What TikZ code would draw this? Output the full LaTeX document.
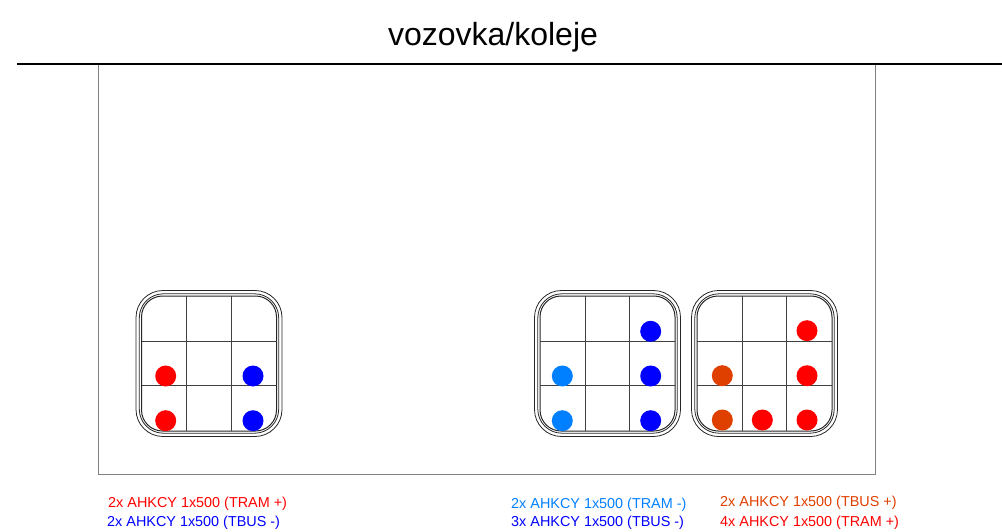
\documentclass[tikz,border=0pt]{standalone}
\usepackage{fontspec}
\setmainfont{Liberation Sans}
\usetikzlibrary{positioning}
\definecolor{tramplus}{RGB}{255,0,0}
\definecolor{tbusminus}{RGB}{0,0,255}
\definecolor{trampminus}{RGB}{0,128,255}
\definecolor{tbusplus}{RGB}{223,64,0}
\tikzset{
  cable/.style={circle, fill=#1, draw=none, minimum size=21pt, inner sep=0pt},
  note/.style={anchor=west, inner sep=0pt, font=\fontsize{14.4}{16}\selectfont},
  wall/.style={draw=black!85, line width=0.8pt},
  grid line/.style={draw=black!75, line width=1pt}
}
\begin{document}
\begin{tikzpicture}[x=1pt, y=-1pt]
\useasboundingbox (0,0) rectangle (1002,532);

% Road and cross section frame
\draw[black!50, line width=1pt] (98.5,64) -- (98.5,474) -- (875,474) -- (875,64);
\draw[black, line width=2.4pt] (17,64) -- (1002,64);
\node[font=\fontsize{32}{36}\selectfont] (title) at (493,37) {vozovka/koleje};

% Duct blocks
\foreach \x in {136,534.5,691.5} {
    \draw[wall, rounded corners=27pt] (\x,290.5) rectangle ++(146,146);
    \draw[wall, rounded corners=24pt] (\x+3.3,293.8) rectangle ++(139.4,139.4);
    \draw[wall, line width=1pt, rounded corners=21pt] (\x+5.5,296) rectangle ++(135,135);
    \draw[grid line] (\x+50.5,296) -- (\x+50.5,430.5);
    \draw[grid line] (\x+95,296) -- (\x+95,430.5);
    \draw[grid line] (\x+5.5,341) -- (\x+140.5,341);
    \draw[grid line] (\x+5.5,385.7) -- (\x+140.5,385.7);
}

% Cables
\foreach \n/\x/\y/\c in {a/165.7/376/tramplus, b/165.7/420.7/tramplus, c/253/376/tbusminus, d/253/420.7/tbusminus,
    e/562.3/376/trampminus, f/562.3/420.7/trampminus, g/650.7/331.3/tbusminus, h/650.7/376/tbusminus, i/650.7/420.7/tbusminus,
    j/722.3/375.7/tbusplus, k/722.3/420/tbusplus, l/762.3/420/tramplus, m/807/330.7/tramplus, n/807/375.7/tramplus, o/807/420/tramplus}
    \node[cable=\c] (cable\n) at (\x,\y) {};

% Labels
\node[note, text=tramplus] (labela) at (108,504) {2x AHKCY 1x500 (TRAM +)};
\node[note, text=tbusminus] (labelb) at (107,523) {2x AHKCY 1x500 (TBUS -)};
\node[note, text=trampminus] (labelc) at (511,504.5) {2x AHKCY 1x500 (TRAM -)};
\node[note, text=tbusminus] (labeld) at (511,523) {3x AHKCY 1x500 (TBUS -)};
\node[note, text=tbusplus] (labele) at (720,503) {2x AHKCY 1x500 (TBUS +)};
\node[note, text=tramplus] (labelf) at (720,522.5) {4x AHKCY 1x500 (TRAM +)};

\end{tikzpicture}
\end{document}
